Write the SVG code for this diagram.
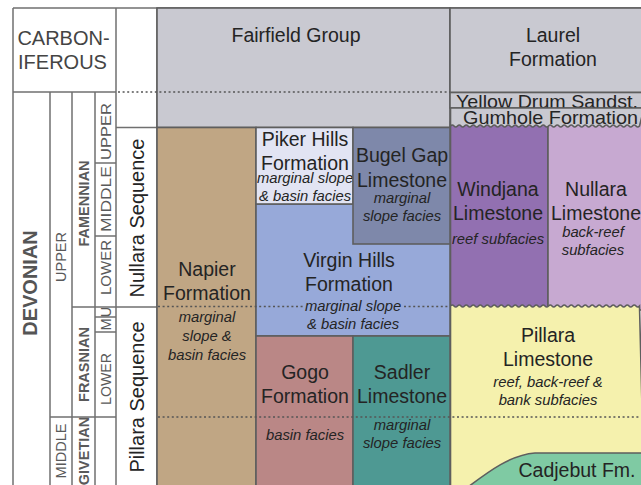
<svg xmlns="http://www.w3.org/2000/svg" width="641" height="485" viewBox="0 0 641 485">
<style>
.b{stroke:#5e5e5e;stroke-width:1.6}
.l{stroke:#707070;stroke-width:1.5;fill:none}
.d{stroke:#555;stroke-width:1.5;stroke-dasharray:2 2.6;fill:none}
text{font-family:"Liberation Sans",Arial,sans-serif;text-anchor:middle;fill:#242424}
.t{font-size:19.5px}
.i{font-size:14.8px;font-style:italic}
.p{font-size:14.5px;fill:#5a5a5a}
.pb{font-size:14.5px;fill:#5a5a5a;font-weight:bold}
</style>
<rect width="641" height="485" fill="#fff"/>
<g id="period-column">
<path class="l" d="M13,8H641M13,8V485M116,8V485M157,8V485M13,92H116M50,92V485M72,92V485M95,92V485M95,163H116M95,236H116M72,307H157M95,317H116M95,332H116M50,417H116M116,127.5H157"/>
<g id="carboniferous"><text x="63.5" y="45" style="font-size:20px;fill:#444">CARBON-</text><text x="62.5" y="69" style="font-size:20px;fill:#444">IFEROUS</text></g>
<g id="devonian"><text x="30" y="283" dy="0.36em" transform="rotate(-90 30 283)" style="font-size:20px;font-weight:bold;fill:#555">DEVONIAN</text></g>
<g id="upper-dev"><text class="p" x="61" y="257" dy="0.36em" transform="rotate(-90 61 257)">UPPER</text></g>
<g id="middle-dev"><text class="p" x="61" y="451" dy="0.36em" transform="rotate(-90 61 451)">MIDDLE</text></g>
<g id="famennian"><text class="pb" x="83.5" y="203.5" dy="0.36em" transform="rotate(-90 83.5 203.5)">FAMENNIAN</text></g>
<g id="frasnian"><text class="pb" x="83.5" y="364.5" dy="0.36em" transform="rotate(-90 83.5 364.5)">FRASNIAN</text></g>
<g id="givetian"><text class="pb" x="83.5" y="451" dy="0.36em" transform="rotate(-90 83.5 451)">GIVETIAN</text></g>
<g id="fam-upper"><text class="p" x="105.5" y="131.5" dy="0.36em" transform="rotate(-90 105.5 131.5)" textLength="57" lengthAdjust="spacingAndGlyphs">UPPER</text></g>
<g id="fam-middle"><text class="p" x="105.5" y="199" dy="0.36em" transform="rotate(-90 105.5 199)" textLength="66" lengthAdjust="spacingAndGlyphs">MIDDLE</text></g>
<g id="fam-lower"><text class="p" x="105.5" y="267.5" dy="0.36em" transform="rotate(-90 105.5 267.5)" textLength="55" lengthAdjust="spacingAndGlyphs">LOWER</text></g>
<g id="fras-u"><text class="p" x="105.5" y="312" dy="0.36em" transform="rotate(-90 105.5 312)">U</text></g>
<g id="fras-m"><text class="p" x="105.5" y="324.5" dy="0.36em" transform="rotate(-90 105.5 324.5)">M</text></g>
<g id="fras-lower"><text class="p" x="105.5" y="379" dy="0.36em" transform="rotate(-90 105.5 379)" textLength="52" lengthAdjust="spacingAndGlyphs">LOWER</text></g>
<g id="nullara-seq"><text x="136.5" y="218" dy="0.36em" transform="rotate(-90 136.5 218)" style="font-size:20px">Nullara Sequence</text></g>
<g id="pillara-seq"><text x="136.5" y="397" dy="0.36em" transform="rotate(-90 136.5 397)" style="font-size:20px">Pillara Sequence</text></g>
</g>
<g id="fairfield"><rect class="b" x="157" y="8" width="293" height="119.5" fill="#c9c9d1"/><text class="t" x="296" y="42">Fairfield Group</text></g>
<g id="laurel"><rect class="b" x="450" y="8" width="193" height="84.5" fill="#c9c9d1"/><text class="t" x="553" y="42">Laurel</text><text class="t" x="553" y="66">Formation</text></g>
<g id="yellow-drum"><rect class="b" x="450" y="92.5" width="193" height="15.5" fill="#c9c9d1"/><text x="547" y="108" style="font-size:19px" textLength="182" lengthAdjust="spacingAndGlyphs">Yellow Drum Sandst.</text></g>
<g id="windjana"><rect class="b" x="450.5" y="122" width="97.5" height="188" fill="#9270b1"/><text class="t" x="498" y="196">Windjana</text><text class="t" x="498" y="220">Limestone</text><text class="i" x="498" y="244">reef subfacies</text></g>
<g id="nullara-ls"><rect class="b" x="548" y="122" width="95" height="188" fill="#c7a9d1"/><text class="t" x="596" y="196">Nullara</text><text class="t" x="596" y="220">Limestone</text><text class="i" x="593" y="237">back-reef</text><text class="i" x="593" y="255">subfacies</text></g>
<g id="gumhole"><path class="b" fill="#c9c9d1" d="M450.5,126q1.75,-2 3.5,0t3.5,0t3.5,0t3.5,0t3.5,0t3.5,0t3.5,0t3.5,0t3.5,0t3.5,0t3.5,0t3.5,0t3.5,0t3.5,0t3.5,0t3.5,0t3.5,0t3.5,0t3.5,0t3.5,0t3.5,0t3.5,0t3.5,0t3.5,0t3.5,0t3.5,0t3.5,0t3.5,0t3.5,0t3.5,0t3.5,0t3.5,0t3.5,0t3.5,0t3.5,0t3.5,0t3.5,0t3.5,0t3.5,0t3.5,0t3.5,0t3.5,0t3.5,0t3.5,0t3.5,0t3.5,0t3.5,0t3.5,0t3.5,0t3.5,0t3.5,0t3.5,0t3.5,0t3.5,0L644,108H450.5Z"/><text x="550.5" y="123.5" style="font-size:19px" textLength="175" lengthAdjust="spacingAndGlyphs">Gumhole Formation</text></g>
<g id="pillara-ls"><path class="b" fill="#f5f1ad" d="M450.5,306q1.75,-2 3.5,0t3.5,0t3.5,0t3.5,0t3.5,0t3.5,0t3.5,0t3.5,0t3.5,0t3.5,0t3.5,0t3.5,0t3.5,0t3.5,0t3.5,0t3.5,0t3.5,0t3.5,0t3.5,0t3.5,0t3.5,0t3.5,0t3.5,0t3.5,0t3.5,0t3.5,0t3.5,0t3.5,0t3.5,0t3.5,0t3.5,0t3.5,0t3.5,0t3.5,0t3.5,0t3.5,0t3.5,0t3.5,0t3.5,0t3.5,0t3.5,0t3.5,0t3.5,0t3.5,0t3.5,0t3.5,0t3.5,0t3.5,0t3.5,0t3.5,0t3.5,0t3.5,0t3.5,0t3.5,0L644,487H450.5Z"/><text class="t" x="548" y="342">Pillara</text><text class="t" x="548" y="366">Limestone</text><text class="i" x="548" y="387">reef, back-reef &amp;</text><text class="i" x="548" y="405">bank subfacies</text></g>
<g id="cadjebut"><path class="b" fill="#7fcaa3" d="M468,487C488,472 510,455 535,453L644,453V487Z"/><text class="t" x="577" y="477">Cadjebut Fm.</text></g>
<g id="napier"><rect class="b" x="157" y="127.5" width="99" height="360" fill="#c0a684"/><text class="t" x="207" y="276">Napier</text><text class="t" x="207" y="300">Formation</text><text class="i" x="207" y="322">marginal</text><text class="i" x="207" y="341">slope &amp;</text><text class="i" x="207" y="360">basin facies</text></g>
<g id="virgin-hills"><rect class="b" x="256" y="204" width="194" height="132" fill="#97a9d9"/><text class="t" x="349" y="267">Virgin Hills</text><text class="t" x="349" y="291">Formation</text><text class="i" x="353" y="311">marginal slope</text><text class="i" x="353" y="329">&amp; basin facies</text></g>
<g id="piker-hills"><rect class="b" x="256" y="127.5" width="97" height="76.5" fill="#e2e4f3"/><text class="t" x="305" y="146">Piker Hills</text><text class="t" x="305" y="170">Formation</text><text class="i" x="305" y="183">marginal slope</text><text class="i" x="305" y="201">&amp; basin facies</text></g>
<g id="bugel-gap"><rect class="b" x="353" y="127.5" width="97" height="116.5" fill="#7e88aa"/><text class="t" x="402" y="162">Bugel Gap</text><text class="t" x="402" y="187">Limestone</text><text class="i" x="402" y="203">marginal</text><text class="i" x="402" y="221">slope facies</text></g>
<g id="gogo"><rect class="b" x="256" y="336" width="97" height="151" fill="#ba8786"/><text class="t" x="305" y="379">Gogo</text><text class="t" x="305" y="403">Formation</text><text class="i" x="305" y="440">basin facies</text></g>
<g id="sadler"><rect class="b" x="353" y="336" width="97" height="151" fill="#4e9993"/><text class="t" x="402" y="379">Sadler</text><text class="t" x="402" y="403">Limestone</text><text class="i" x="402" y="430">marginal</text><text class="i" x="402" y="448">slope facies</text></g>
<g id="connectors">
<path class="d" d="M118,92H450M158,306.5H303M404,306.5H450M158,417H641"/>
</g>
</svg>
